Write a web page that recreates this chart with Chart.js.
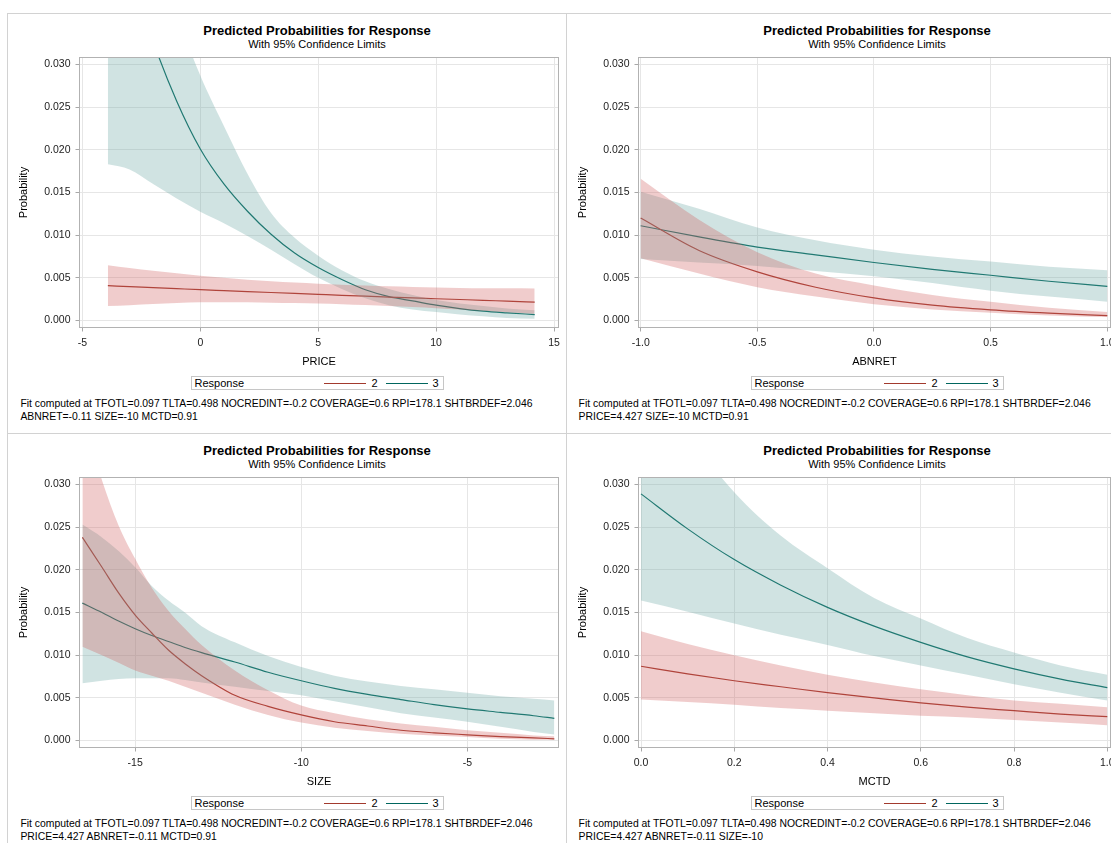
<!DOCTYPE html>
<html>
<head>
<meta charset="utf-8">
<title>Predicted Probabilities for Response</title>
<script src="https://cdn.jsdelivr.net/npm/chart.js@4.4.0/dist/chart.umd.min.js"></script>
<style>
  body { margin:0; width:1111px; height:843px; overflow:hidden; background:#fff; position:relative;
         font-family:"Liberation Sans", Arial, sans-serif; color:#000; }
  .abs { position:absolute; white-space:nowrap; }
  .rule { position:absolute; background:#d2d2d2; }
  .ttl { font-size:13px; font-weight:bold; text-align:center; width:400px; line-height:15px; }
  .sub { font-size:11px; text-align:center; width:400px; line-height:13px; }
  .legend { border:1px solid #c6c6c6; width:253px; height:14px; box-sizing:border-box; background:#fff; font-size:11px; }
  .legend span { position:absolute; top:0; line-height:12px; }
  .legend i { position:absolute; top:6px; height:1px; width:42px; }
  .note { font-size:10.4px; line-height:12.7px; }
  canvas { position:absolute; }
</style>
</head>
<body>
<script>
// tick values shared by all four panels
const probTicks = [0, 0.005, 0.010, 0.015, 0.020, 0.025, 0.030];

// PRICE panel
const priceTicks = [-5, 0, 5, 10, 15];
const priceX      = [-3.92, -3, -2, -1, 0, 1, 2, 3, 4, 5, 6, 7, 8, 9, 10, 11, 12, 13, 14.18];
const priceResp2   = [0.00408, 0.00397, 0.00385, 0.00373, 0.00361, 0.0035, 0.00339, 0.00328, 0.00317, 0.00306, 0.00295, 0.00285, 0.00275, 0.00265, 0.00255, 0.00246, 0.00237, 0.00227, 0.00216];
const priceResp2Hi = [0.00647, 0.00615, 0.00583, 0.00553, 0.00525, 0.005, 0.00478, 0.00459, 0.00444, 0.00431, 0.0042, 0.00409, 0.004, 0.00392, 0.00386, 0.00382, 0.00379, 0.00377, 0.00376];
const priceResp2Lo = [0.00169, 0.0018, 0.00192, 0.00205, 0.00214, 0.00215, 0.00213, 0.00209, 0.00205, 0.00199, 0.00191, 0.00181, 0.0017, 0.00157, 0.00143, 0.00128, 0.00113, 0.00097, 0.00078];
const priceResp3   = [0.052, 0.0413, 0.0327, 0.0257, 0.0201, 0.016, 0.0128, 0.0101, 0.0079, 0.0062, 0.0048, 0.0036, 0.0028, 0.0023, 0.0018, 0.0014, 0.0011, 0.0009, 0.0007];
const priceResp3Hi = [0.068, 0.056, 0.045, 0.036, 0.0287, 0.0228, 0.0172, 0.0126, 0.0097, 0.0076, 0.0059, 0.0046, 0.0037, 0.003, 0.0024, 0.002, 0.0017, 0.0014, 0.0012];
const priceResp3Lo = [0.0183, 0.0177, 0.0160, 0.0143, 0.01275, 0.0114, 0.0099, 0.0083, 0.0066, 0.0050, 0.0037, 0.0026, 0.0018, 0.0013, 0.0010, 0.0007, 0.0005, 0.0003, 0.0002];

// ABNRET panel
const abnretTicks = [-1, -0.5, 0, 0.5, 1];
const abnretX      = [-1, -0.75, -0.5, -0.25, 0, 0.25, 0.5, 0.75, 1];
const abnretResp2   = [0.0120, 0.0082, 0.0057, 0.0039, 0.00265, 0.0018, 0.00125, 0.00086, 0.00056];
const abnretResp2Hi = [0.0166, 0.0118, 0.0080, 0.0055, 0.0041, 0.0030, 0.0022, 0.0015, 0.0010];
const abnretResp2Lo = [0.0073, 0.0055, 0.0039, 0.0028, 0.0019, 0.0013, 0.0009, 0.0006, 0.0004];
const abnretResp3   = [0.0111, 0.0098, 0.0086, 0.0077, 0.0068, 0.0060, 0.0053, 0.0046, 0.0040];
const abnretResp3Hi = [0.0151, 0.0131, 0.0109, 0.0094, 0.0083, 0.0075, 0.0069, 0.0063, 0.0059];
const abnretResp3Lo = [0.0072, 0.0068, 0.0064, 0.0058, 0.0052, 0.0044, 0.0035, 0.0028, 0.0022];

// SIZE panel
const sizeTicks = [-15, -10, -5];
const sizeX      = [-16.59, -16, -15.5, -15, -14.5, -14, -13.5, -13, -12, -11, -10, -9, -8, -7, -6, -5, -4, -3, -2.38];
const sizeResp2   = [0.0238, 0.0203, 0.0173, 0.0147, 0.0126, 0.0106, 0.0090, 0.0076, 0.0053, 0.0040, 0.0030, 0.0022, 0.0017, 0.0012, 0.0009, 0.00067, 0.00045, 0.0003, 0.0002];
const sizeResp2Hi = [0.038, 0.0305, 0.0252, 0.0213, 0.0179, 0.0152, 0.0131, 0.0112, 0.0082, 0.0059, 0.0041, 0.0032, 0.0025, 0.0020, 0.0016, 0.0012, 0.0009, 0.0006, 0.0005];
const sizeResp2Lo = [0.0110, 0.0100, 0.0091, 0.0082, 0.0076, 0.0070, 0.0063, 0.0056, 0.0042, 0.0030, 0.0021, 0.0015, 0.0011, 0.0008, 0.0006, 0.0004, 0.0002, 0.0001, 0.0001];
const sizeResp3   = [0.0161, 0.0150, 0.0140, 0.0131, 0.0123, 0.0116, 0.0109, 0.0103, 0.0092, 0.0080, 0.0070, 0.0061, 0.0054, 0.0048, 0.0042, 0.0037, 0.0033, 0.0029, 0.0026];
const sizeResp3Hi = [0.0253, 0.0238, 0.0222, 0.0203, 0.0181, 0.0164, 0.0150, 0.0134, 0.0115, 0.0099, 0.0086, 0.0076, 0.0069, 0.0064, 0.0060, 0.0056, 0.0052, 0.0049, 0.0047];
const sizeResp3Lo = [0.0067, 0.0070, 0.0072, 0.0073, 0.0073, 0.0073, 0.0071, 0.0068, 0.0063, 0.0058, 0.0053, 0.0046, 0.0039, 0.0032, 0.0027, 0.0022, 0.0016, 0.0010, 0.0007];

// MCTD panel
const mctdTicks = [0, 0.2, 0.4, 0.6, 0.8, 1];
const mctdX      = [0, 0.1, 0.2, 0.3, 0.4, 0.5, 0.6, 0.7, 0.8, 0.9, 1];
const mctdResp2   = [0.0087, 0.0078, 0.0070, 0.0063, 0.0056, 0.0050, 0.0044, 0.0039, 0.0035, 0.0031, 0.0028];
const mctdResp2Hi = [0.0128, 0.0113, 0.0100, 0.0088, 0.0077, 0.0068, 0.0060, 0.0053, 0.0047, 0.0043, 0.0039];
const mctdResp2Lo = [0.0048, 0.0045, 0.0042, 0.0038, 0.0035, 0.0032, 0.0029, 0.0027, 0.0024, 0.0021, 0.0018];
const mctdResp3   = [0.0289, 0.0248, 0.0212, 0.0182, 0.0156, 0.0134, 0.0115, 0.0098, 0.0084, 0.0072, 0.0062];
const mctdResp3Hi = [0.045, 0.036, 0.0291, 0.0240, 0.0202, 0.0167, 0.0143, 0.0120, 0.0103, 0.0088, 0.0077];
const mctdResp3Lo = [0.0164, 0.0151, 0.0137, 0.0124, 0.0112, 0.0099, 0.0088, 0.0077, 0.0066, 0.0056, 0.0047];

const fitLine = "Fit computed at TFOTL=0.097 TLTA=0.498 NOCREDINT=-0.2 COVERAGE=0.6 RPI=178.1 SHTBRDEF=2.046";

const red = "#A23A2E", teal = "#01665E";
const redFill = "rgba(208,91,91,0.31)", tealFill = "rgba(102,165,160,0.31)";

Chart.defaults.font.family = "'Liberation Sans', Arial, sans-serif";
Chart.defaults.color = "#222";

const panels = [
  { ox: 7,   oy: 13,  cx: 317, fx: 20.4, frameL: 79.5,  frameR: 558.5,  xmin: -5.123, xmax: 15.19, dec: 0, name: "PRICE",
    x: priceX, ticks: priceTicks, r2: priceResp2, r2Hi: priceResp2Hi, r2Lo: priceResp2Lo, r3: priceResp3, r3Hi: priceResp3Hi, r3Lo: priceResp3Lo,
    note: "ABNRET=-0.11 SIZE=-10 MCTD=0.91" },
  { ox: 566, oy: 13,  cx: 877, fx: 578.6, frameL: 638.5, frameR: 1110.5, xmin: -1.0094, xmax: 1.0137, dec: 1, name: "ABNRET",
    x: abnretX, ticks: abnretTicks, r2: abnretResp2, r2Hi: abnretResp2Hi, r2Lo: abnretResp2Lo, r3: abnretResp3, r3Hi: abnretResp3Hi, r3Lo: abnretResp3Lo,
    note: "PRICE=4.427 SIZE=-10 MCTD=0.91" },
  { ox: 7,   oy: 433, cx: 317, fx: 20.4, frameL: 79.5,  frameR: 558.5,  xmin: -16.677, xmax: -2.254, dec: 0, name: "SIZE",
    x: sizeX, ticks: sizeTicks, r2: sizeResp2, r2Hi: sizeResp2Hi, r2Lo: sizeResp2Lo, r3: sizeResp3, r3Hi: sizeResp3Hi, r3Lo: sizeResp3Lo,
    note: "PRICE=4.427 ABNRET=-0.11 MCTD=0.91" },
  { ox: 566, oy: 433, cx: 877, fx: 578.6, frameL: 638.5, frameR: 1110.5, xmin: -0.0054, xmax: 1.0069, dec: 1, name: "MCTD",
    x: mctdX, ticks: mctdTicks, r2: mctdResp2, r2Hi: mctdResp2Hi, r2Lo: mctdResp2Lo, r3: mctdResp3, r3Hi: mctdResp3Hi, r3Lo: mctdResp3Lo,
    note: "PRICE=4.427 ABNRET=-0.11 SIZE=-10" }
];

// frame round the plot wall
const framePlugin = {
  id: "frame",
  afterDatasetsDraw(chart) {
    const { ctx, chartArea: a } = chart;
    ctx.save();
    ctx.strokeStyle = "#b2b2b2";
    ctx.lineWidth = 1;
    ctx.strokeRect(a.left, a.top, a.right - a.left, a.bottom - a.top);
    ctx.restore();
  }
};

function addEl(cls, left, top, html) {
  const d = document.createElement("div");
  d.className = "abs " + cls;
  d.style.left = left + "px";
  d.style.top = top + "px";
  d.innerHTML = html;
  document.body.appendChild(d);
  return d;
}

function rule(left, top, w, h) {
  const d = document.createElement("div");
  d.className = "rule";
  Object.assign(d.style, { left: left + "px", top: top + "px", width: w + "px", height: h + "px" });
  document.body.appendChild(d);
}

rule(7, 13, 1104, 1);
rule(7, 433, 1104, 1);
rule(7, 13, 1, 830);
rule(566, 13, 1, 830);

const CH = 372, CW = 559;

panels.forEach(p => {
  const dy = p.oy - 13;
  const frameTop = 57.5 + dy, frameBottom = 327.5 + dy;

  addEl("ttl", p.cx - 200, 22.5 + dy, "Predicted Probabilities for Response");
  addEl("sub", p.cx - 200, 37.5 + dy, "With 95% Confidence Limits");

  const lg = addEl("legend", p.cx - 126.5, 376 + dy, "");
  lg.innerHTML =
    '<span style="left:3px">Response</span>' +
    '<i style="left:132px;background:' + red + '"></i><span style="left:180px">2</span>' +
    '<i style="left:194px;background:' + teal + '"></i><span style="left:241px">3</span>';

  addEl("note", p.fx, 398 + dy, fitLine + "<br>" + p.note);

  const c = document.createElement("canvas");
  c.width = CW; c.height = CH;
  c.style.left = p.ox + "px";
  c.style.top = p.oy + "px";
  document.body.appendChild(c);

  const pts = arr => p.x.map((x, i) => ({ x: x, y: arr[i] }));
  const band = (arr, color, fill) => ({ data: pts(arr), fill: fill, backgroundColor: color, borderColor: "transparent", borderWidth: 0, pointRadius: 0 });
  const line = (arr, color) => ({ data: pts(arr), fill: false, borderColor: color, borderWidth: 1.2, pointRadius: 0 });

  new Chart(c, {
    type: "line",
    data: {
      datasets: [
        band(p.r2Hi, redFill, "+1"),
        band(p.r2Lo, redFill, false),
        band(p.r3Hi, tealFill, "+1"),
        band(p.r3Lo, tealFill, false),
        line(p.r2, red),
        line(p.r3, teal)
      ]
    },
    options: {
      responsive: false,
      animation: false,
      events: [],
      layout: { padding: { left: 0, top: frameTop - p.oy, right: CW - (p.frameR - p.ox), bottom: 0 } },
      elements: { line: { cubicInterpolationMode: "monotone" } },
      plugins: { legend: { display: false }, tooltip: { enabled: false } },
      scales: {
        x: {
          type: "linear",
          min: p.xmin,
          max: p.xmax,
          afterBuildTicks: s => { s.ticks = p.ticks.map(v => ({ value: v })); },
          afterFit: s => { s.height = CH - (frameBottom - p.oy); },
          ticks: { callback: v => v.toFixed(p.dec), font: { size: 10.5 }, color: "#222", padding: 5.5, maxRotation: 0, autoSkip: false },
          grid: { color: "#e6e6e6", tickColor: "#a8a8a8", tickLength: 4 },
          border: { display: false },
          title: { display: true, text: p.name, font: { size: 11 }, color: "#000", padding: { top: 0, bottom: 16 } }
        },
        y: {
          min: -0.00082,
          max: 0.03082,
          afterBuildTicks: s => { s.ticks = probTicks.map(v => ({ value: v })); },
          afterFit: s => { s.width = p.frameL - p.ox; },
          ticks: { callback: v => v.toFixed(3), font: { size: 10.5 }, color: "#222", padding: 5 },
          grid: { color: "#e6e6e6", tickColor: "#a8a8a8", tickLength: 4 },
          border: { display: false },
          title: { display: true, text: "Probability", font: { size: 11 }, color: "#000", padding: { top: 10.4, bottom: 0 } }
        }
      }
    },
    plugins: [framePlugin]
  });
});
</script>
</body>
</html>
